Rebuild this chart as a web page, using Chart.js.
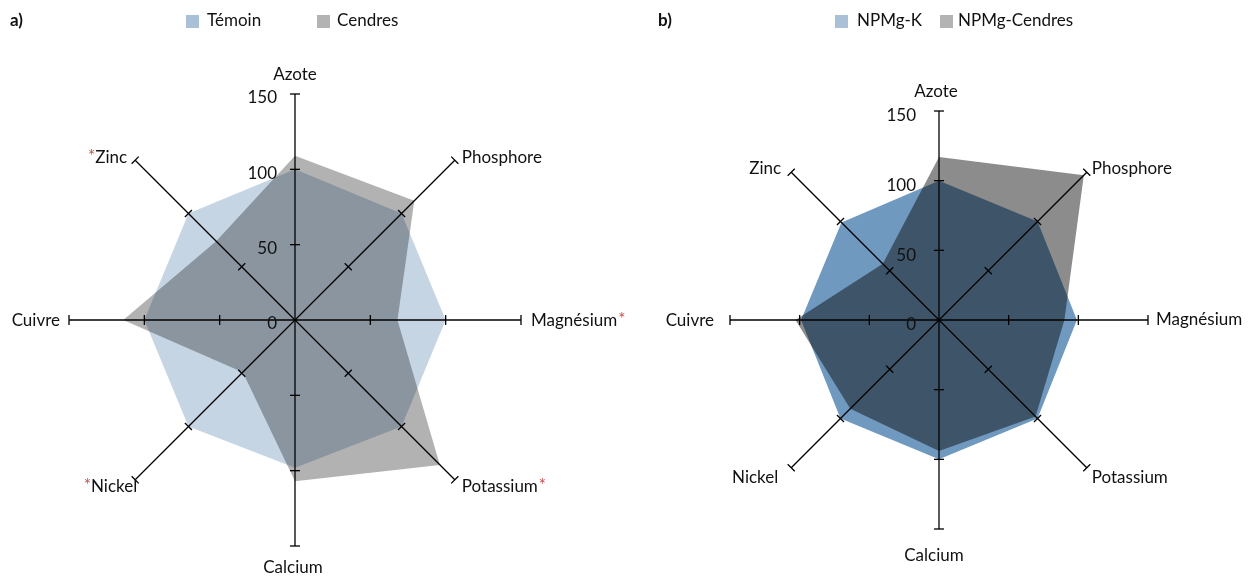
<!DOCTYPE html>
<html>
<head>
<meta charset="utf-8">
<script src="https://cdn.jsdelivr.net/npm/chart.js@4.4.1/dist/chart.umd.min.js"></script>
<style>
  html, body { margin: 0; padding: 0; background: #fff; }
  #wrap { position: relative; width: 1251px; height: 576px; }
  canvas { position: absolute; top: 0; }
  #chartA { left: 0; }
  #chartB { left: 625px; }
</style>
</head>
<body>
<div id="wrap">
  <canvas id="chartA" width="625" height="576"></canvas>
  <canvas id="chartB" width="626" height="576"></canvas>
</div>
<script>
// Axes of both radars (clockwise from the top)
const nutrients = ['Azote', 'Phosphore', 'Magnésium', 'Potassium', 'Calcium', 'Nickel', 'Cuivre', 'Zinc'];
const scaleTicks = [0, 50, 100, 150];

// a) relative index, control = 100
const temoin  = [100, 100, 100, 100, 98, 100, 100, 100];
const cendres = [109, 112, 68, 136, 107, 49, 114, 74];
const significantA = [false, false, true, true, false, true, false, true];

// b) relative index, NPMg-K = 100
const npmgK       = [100, 100, 99, 100, 100, 100, 99, 99];
const npmgCendres = [117, 147, 90, 98, 94, 90, 103, 57];
const significantB = [false, false, false, false, false, false, false, false];

const FONT_FAMILY = 'Lato, "Liberation Sans", sans-serif';
const FONT_SIZE = 17;
const TEXT = '#111';
const STAR = '#c0504d';

// Draws tick marks, tick values, axis names and the legend on top of the radar
const radarDecor = {
  id: 'radarDecor',
  afterDraw(chart, args, o) {
    const ctx = chart.ctx;
    const r = chart.scales.r;
    const labels = chart.data.labels;
    const font = FONT_SIZE + 'px ' + FONT_FAMILY;
    ctx.save();

    // perpendicular tick marks at each step, including the end cap
    ctx.strokeStyle = '#000';
    ctx.lineWidth = 1.3;
    labels.forEach((_, i) => {
      o.ticks.forEach(v => {
        if (v === 0) return;
        const p = r.getPointPositionForValue(i, v);
        const nx = -Math.sin(p.angle) * o.tickHalf;
        const ny = Math.cos(p.angle) * o.tickHalf;
        ctx.beginPath();
        ctx.moveTo(p.x + nx, p.y + ny);
        ctx.lineTo(p.x - nx, p.y - ny);
        ctx.stroke();
      });
    });

    // tick values along the upper axis
    ctx.fillStyle = TEXT;
    ctx.font = font;
    ctx.textAlign = 'right';
    ctx.textBaseline = 'middle';
    o.ticks.forEach(v => {
      const p = r.getPointPositionForValue(0, v);
      ctx.fillText(String(v), p.x + o.tickDx, p.y + o.tickDy);
    });

    // axis names, with a red star for significant differences
    labels.forEach((name, i) => {
      const p = r.getPointPositionForValue(i, r.max);
      const [dx, dy] = o.labelOffsets[i];
      const c = Math.cos(p.angle);
      const align = Math.abs(c) < 1e-6 ? 'center' : (c > 0 ? 'left' : 'right');
      const x = p.x + dx, y = p.y + dy;
      ctx.font = font;
      ctx.fillStyle = TEXT;
      ctx.textAlign = align;
      ctx.textBaseline = 'middle';
      ctx.fillText(name, x, y);
      if (o.significant[i]) {
        const w = ctx.measureText(name).width;
        ctx.fillStyle = STAR;
        if (align === 'left') {
          ctx.textAlign = 'left';
          ctx.fillText('*', x + w + 1, y - 1);
        } else {
          ctx.textAlign = 'right';
          ctx.fillText('*', x - w, y - 1);
        }
      }
    });

    // panel tag and legend
    const lg = o.legend;
    ctx.textAlign = 'left';
    ctx.textBaseline = 'middle';
    ctx.fillStyle = TEXT;
    ctx.font = 'bold ' + font;
    ctx.fillText(lg.tag, lg.tagX, lg.y);
    ctx.font = font;
    lg.items.forEach(it => {
      ctx.fillStyle = it.color;
      ctx.fillRect(it.box, lg.y - 6, 13, 13);
      ctx.fillStyle = TEXT;
      ctx.fillText(it.text, it.textX, lg.y);
    });
    ctx.restore();
  }
};

function radarOptions(padding, decor) {
  return {
    responsive: false,
    devicePixelRatio: 1,
    animation: false,
    layout: { padding },
    elements: {
      line: { tension: 0, borderWidth: 0, borderColor: 'rgba(0,0,0,0)' },
      point: { radius: 0, hoverRadius: 0 }
    },
    scales: {
      r: {
        min: 0,
        max: 150,
        startAngle: 0,
        ticks: { display: false, stepSize: 50 },
        grid: { display: false, z: 1 },
        angleLines: { display: true, color: '#000', lineWidth: 1.3 },
        pointLabels: { display: false }
      }
    },
    plugins: {
      legend: { display: false },
      tooltip: { enabled: false },
      radarDecor: decor
    }
  };
}

new Chart(document.getElementById('chartA'), {
  type: 'radar',
  data: {
    labels: nutrients,
    datasets: [
      { label: 'Témoin', data: temoin, fill: true, order: 2,
        backgroundColor: 'rgba(169,192,214,0.67)' },
      { label: 'Cendres', data: cendres, fill: true, order: 1,
        backgroundColor: 'rgba(0,0,0,0.3)' }
    ]
  },
  options: radarOptions(
    { left: 69, top: 94, right: 104, bottom: 30 },
    {
      ticks: scaleTicks,
      tickHalf: 5,
      tickDx: -18,
      tickDy: 4,
      significant: significantA,
      labelOffsets: [[0, -19], [7, -3], [10, 1], [7, 7], [-2, 22], [2, 7], [-9, 1], [-8, -3]],
      legend: {
        tag: 'a)', tagX: 10, y: 21,
        items: [
          { text: 'Témoin', color: '#a9c0d6', box: 186, textX: 207 },
          { text: 'Cendres', color: '#b3b3b3', box: 317, textX: 337 }
        ]
      }
    }
  ),
  plugins: [radarDecor]
});

new Chart(document.getElementById('chartB'), {
  type: 'radar',
  data: {
    labels: nutrients,
    datasets: [
      { label: 'NPMg-K', data: npmgK, fill: true, order: 2,
        backgroundColor: 'rgb(112,153,191)' },
      { label: 'NPMg-Cendres', data: npmgCendres, fill: true, order: 1,
        backgroundColor: 'rgba(0,0,0,0.45)' }
    ]
  },
  options: radarOptions(
    { left: 105, top: 111, right: 103, bottom: 47 },
    {
      ticks: scaleTicks,
      tickHalf: 5,
      tickDx: -23,
      tickDy: 5,
      significant: significantB,
      labelOffsets: [[-3, -19], [5, -4], [8, 0], [5, 10], [-5, 27], [-13, 10], [-16, 1], [-10, -4]],
      legend: {
        tag: 'b)', tagX: 33, y: 21,
        items: [
          { text: 'NPMg-K', color: '#a9c0d6', box: 210, textX: 232 },
          { text: 'NPMg-Cendres', color: '#b3b3b3', box: 315, textX: 333 }
        ]
      }
    }
  ),
  plugins: [radarDecor]
});
</script>
</body>
</html>
